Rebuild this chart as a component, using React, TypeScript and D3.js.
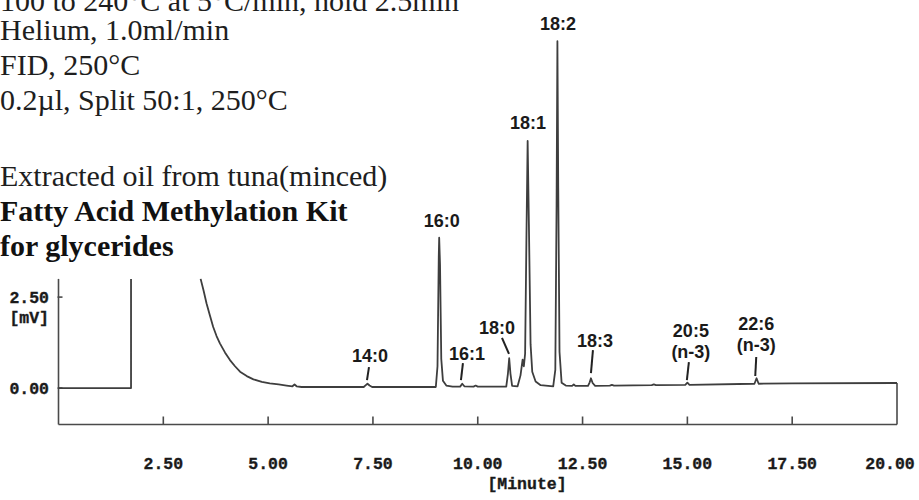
import React from "react";
import * as d3 from "d3";

// ---------- data ----------
const conditionLines = [
  "100 to 240°C at 5°C/min, hold 2.5min",
  "Helium, 1.0ml/min",
  "FID, 250°C",
  "0.2µl, Split 50:1, 250°C",
];
const sampleLine = "Extracted oil from tuna(minced)";
const kitLines = ["Fatty Acid Methylation Kit", "for glycerides"];

// trace: retention time [min] and detector signal [mV]; NaN = off-scale gap
const timeMin = [
  0.0, 1.73, 1.73, 2.5,
  3.39, 3.46, 3.53, 3.61, 3.69, 3.77, 3.85, 3.97, 4.09, 4.21, 4.33, 4.49, 4.65, 4.85, 5.04, 5.25, 5.44,
  5.58, 5.63, 5.68, 5.8, 6.1,
  7.28, 7.33, 7.37, 7.42, 7.48,
  9.0, 9.04, 9.07, 9.08, 9.1, 9.13, 9.17, 9.25, 9.4,
  9.58, 9.63, 9.68, 9.9, 9.95, 10.0,
  10.68, 10.72, 10.75, 10.78, 10.82, 10.95,
  11.02, 11.07, 11.1, 11.13, 11.16, 11.19, 11.22, 11.26, 11.3, 11.38, 11.5,
  11.8, 11.85, 11.88, 11.9, 11.92, 11.95, 12.0, 12.1,
  12.25, 12.29, 12.33, 12.63, 12.67, 12.7, 12.74, 12.8,
  13.15, 13.2, 13.25, 14.15, 14.2, 14.25,
  14.95, 15.0, 15.05, 16.6, 16.65, 16.7, 17.5, 20.0,
];
const signalMv = [
  0.0, 0.0, 3.0, NaN,
  3.0, 2.68, 2.33, 2.0, 1.68, 1.43, 1.23, 0.98, 0.77, 0.6, 0.45, 0.33, 0.24, 0.17, 0.13, 0.1, 0.07,
  0.05, 0.1, 0.05, 0.03, 0.03,
  0.03, 0.08, 0.12, 0.07, 0.03,
  0.03, 0.6, 3.6, 4.13, 3.4, 0.8, 0.2, 0.07, 0.04,
  0.04, 0.12, 0.05, 0.04, 0.07, 0.04,
  0.04, 0.4, 0.82, 0.4, 0.06, 0.05,
  0.35, 0.78, 0.6, 0.95, 4.0, 6.79, 4.5, 1.2, 0.45, 0.18, 0.08,
  0.05, 0.5, 5.0, 9.53, 5.5, 1.0, 0.15, 0.07,
  0.06, 0.1, 0.06, 0.06, 0.16, 0.27, 0.14, 0.06,
  0.07, 0.09, 0.07, 0.08, 0.1, 0.08,
  0.09, 0.15, 0.09, 0.12, 0.27, 0.12, 0.13, 0.14,
];

const peakNames = ["14:0", "16:0", "16:1", "18:0", "18:1", "18:2", "18:3", "20:5", "22:6"];
const peakSubNames = ["", "", "", "", "", "", "", "(n-3)", "(n-3)"];
const peakTimes = [7.37, 9.08, 9.63, 10.75, 11.19, 11.9, 12.7, 15.0, 16.65];
const peakApexMv = [0.12, 4.13, 0.12, 0.82, 6.79, 9.53, 0.27, 0.15, 0.27];

const xTicks = [2.5, 5, 7.5, 10, 12.5, 15, 17.5, 20];
const yTicks = [0, 2.5];
const xTitle = "[Minute]";
const yUnit = "[mV]";

// ---------- layout (pixel offsets of labels relative to peak apex) ----------
const labelLayout = [
  { lx: 2.5, ly: -28.6, l1: [1.5, -16.6], l2: [-0.5, -3.6] },
  { lx: 2.5, ly: -17.5, l1: null, l2: null },
  { lx: 4.7, ly: -30.6, l1: [0.7, -20.6], l2: [-1.3, -3.6] },
  { lx: -12.2, ly: -30.3, l1: [-7.2, -20.3], l2: [-0.2, -4.3] },
  { lx: 0.3, ly: -18, l1: null, l2: null },
  { lx: 0.5, ly: -18, l1: null, l2: null },
  { lx: 4, ly: -38.2, l1: [2, -28.2], l2: [0, -5.2] },
  { lx: 3.5, ly: -52.6, l1: [1.5, -20.6], l2: [-0.5, -2.6] },
  { lx: -0.3, ly: -55.2, l1: [-0.3, -21.2], l2: [-1.3, -2.2] },
];

const W = 919;
const H = 500;
const traceColor = "#3e3e3e";
const axisColor = "#4a4a4a";
const monoFont = "'Liberation Mono', 'DejaVu Sans Mono', monospace";
const sansFont = "'Liberation Sans', Arial, sans-serif";
const serifFont = "'Liberation Serif', 'Times New Roman', serif";

export default function App() {
  const x = d3.scaleLinear().domain([0, 20]).range([58.5, 897]);
  const y = d3.scaleLinear().domain([-1, 3]).range([424.5, 278.9]);
  const yBottom = -1.0;
  const yTop = 3.0;

  const pts = timeMin.map((t, i) => [t, signalMv[i]] as [number, number]);
  const line = d3
    .line<[number, number]>()
    .defined((d) => !isNaN(d[1]))
    .x((d) => x(d[0]))
    .y((d) => y(d[1]));
  const path = line(pts) || "";

  const lastMv = signalMv[signalMv.length - 1];

  return (
    <svg
      width={W}
      height={H}
      style={{ position: "absolute", left: 0, top: 0, background: "#fff" }}
    >
      {/* condition text */}
      <g fontFamily={serifFont} fontSize={30} fill="#1e1e1e">
        {conditionLines.map((s, i) => (
          <text key={s} x={0} y={[11, 39.5, 74.5, 109.5][i]}>
            {s}
          </text>
        ))}
        <text x={0} y={185.5}>{sampleLine}</text>
        {kitLines.map((s, i) => (
          <text key={s} x={0} y={220.5 + i * 35} fontWeight="bold" fill="#111">
            {s}
          </text>
        ))}
      </g>

      {/* frame */}
      <g stroke={axisColor} strokeWidth={1.6} fill="none">
        <line x1={x(0)} x2={x(0)} y1={y(yTop)} y2={y(yBottom)} />
        <line x1={x(0)} x2={x(20)} y1={y(yBottom)} y2={y(yBottom)} />
        <line x1={x(20)} x2={x(20)} y1={y(lastMv)} y2={y(yBottom)} />
        {xTicks
          .filter((t) => t < 20)
          .map((t) => (
            <line key={t} x1={x(t)} x2={x(t)} y1={y(yBottom)} y2={y(yBottom) - 8} />
          ))}
        {yTicks.map((v) => (
          <line key={v} x1={x(0) - 1} x2={x(0) + 4} y1={y(v)} y2={y(v)} />
        ))}
      </g>

      {/* tick labels */}
      <g
        fontFamily={monoFont}
        fontWeight="bold"
        fontSize={16.5}
        fill="#1a1a1a"
        stroke="#1a1a1a"
        strokeWidth={0.35}
      >
        {xTicks.map((t) => {
          const label = d3.format(".2f")(t);
          const cx = Math.min(x(t), W - 4 - label.length * 5);
          return (
            <text key={t} x={cx} y={469} textAnchor="middle">
              {label}
            </text>
          );
        })}
        <text x={527} y={489} textAnchor="middle">{xTitle}</text>
        {yTicks.map((v) => (
          <text key={v} x={49} y={y(v) + 6} textAnchor="end">
            {d3.format(".2f")(v)}
          </text>
        ))}
        <text x={49} y={y(2.5) + 25.5} textAnchor="end">{yUnit}</text>
      </g>

      {/* trace */}
      <path d={path} fill="none" stroke={traceColor} strokeWidth={1.8} strokeLinejoin="round" />

      {/* peak labels */}
      <g fontFamily={sansFont} fontWeight="bold" fontSize={18} fill="#1a1a1a">
        {peakNames.map((n, i) => {
          const ax = x(peakTimes[i]);
          const ay = y(peakApexMv[i]);
          const L = labelLayout[i];
          return (
            <g key={n}>
              <text x={ax + L.lx} y={ay + L.ly + 6.5} textAnchor="middle">
                {n}
              </text>
              {peakSubNames[i] && (
                <text x={ax + L.lx} y={ay + L.ly + 6.5 + 21} textAnchor="middle">
                  {peakSubNames[i]}
                </text>
              )}
              {L.l1 && L.l2 && (
                <line
                  x1={ax + L.l1[0]}
                  y1={ay + L.l1[1]}
                  x2={ax + L.l2[0]}
                  y2={ay + L.l2[1]}
                  stroke="#222"
                  strokeWidth={2}
                />
              )}
            </g>
          );
        })}
      </g>
    </svg>
  );
}
